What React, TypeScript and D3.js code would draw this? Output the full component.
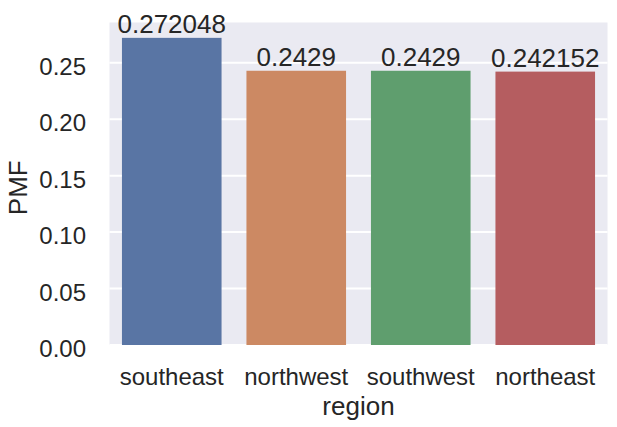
import React from "react";
import * as d3 from "d3";

const categories = ["southeast", "northwest", "southwest", "northeast"];
const values = [0.272048, 0.2429, 0.2429, 0.242152];
const labels = ["0.272048", "0.2429", "0.2429", "0.242152"];
const colors = ["#5975a4", "#cc8963", "#5f9e6e", "#b55d60"];
const yTicks = [0, 0.05, 0.1, 0.15, 0.2, 0.25];

const W = 617;
const H = 427;
const left = 109.5;
const right = 607.5;
const top = 22.5;
const bottom = 345;
const FONT = "Arial, 'Liberation Sans', sans-serif";
const TXT = "#262626";

export default function App() {
  const x = d3.scaleBand<string>().domain(categories).range([left, right]).paddingInner(0.2).paddingOuter(0.1);
  const yMax = d3.max(values)! * 1.05;
  const y = d3.scaleLinear().domain([0, yMax]).range([bottom, top]);
  return (
    <svg width={W} height={H} style={{ position: "absolute", left: 0, top: 0 }} fontFamily={FONT}>
      <rect x={left} y={top} width={right - left} height={bottom - top} fill="#eaeaf2" />
      {yTicks.map((t) => (
        <g key={t}>
          <line x1={left} x2={right} y1={y(t)} y2={y(t)} stroke="#ffffff" strokeWidth={2} />
          <text x={86} y={y(t) + 12} textAnchor="end" fontSize={24} fill={TXT}>
            {d3.format(".2f")(t)}
          </text>
        </g>
      ))}
      {categories.map((c, i) => (
        <g key={c}>
          <rect x={x(c)} y={y(values[i])} width={x.bandwidth()} height={bottom - y(values[i])} fill={colors[i]} />
          <text x={x(c)! + x.bandwidth() / 2} y={y(values[i]) - 5} textAnchor="middle" fontSize={26} fill={TXT}>
            {labels[i]}
          </text>
          <text x={x(c)! + x.bandwidth() / 2} y={385} textAnchor="middle" fontSize={24} fill={TXT}>
            {c}
          </text>
        </g>
      ))}
      <text x={(left + right) / 2} y={415} textAnchor="middle" fontSize={26} fill={TXT}>
        region
      </text>
      <text transform={`translate(27, ${(top + bottom) / 2 + 4}) rotate(-90)`} textAnchor="middle" fontSize={26} fill={TXT}>
        PMF
      </text>
    </svg>
  );
}
